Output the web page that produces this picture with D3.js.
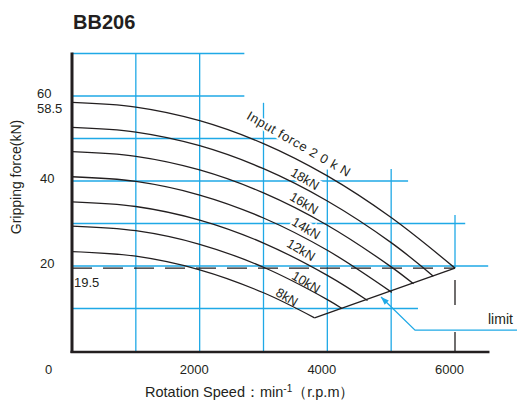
<!DOCTYPE html>
<html><head><meta charset="utf-8">
<script src="https://cdn.jsdelivr.net/npm/d3@7"></script>
<style>
body{margin:0;background:#fff}
svg{display:block;font-family:"Liberation Sans",Arial,Helvetica,sans-serif}
</style>
</head><body>
<svg id="chart" width="517" height="400"></svg>
<script>
// ---- data ----
const title = "BB206";
const curveLabels = ["20kN","18kN","16kN","14kN","12kN","10kN","8kN"];
const rpm20 = [0,1000,2000,3000,4000,5000,6000];
const grip20 = [58.5,57.4,54.2,48.8,41.2,31.4,19.5];
const rpm18 = [0,1000,2000,3000,4000,5000,5660];
const grip18 = [52.6,51.5,48.3,42.9,35.3,25.5,17.6];
const rpm16 = [0,1000,2000,3000,4000,5000,5350];
const grip16 = [46.9,45.8,42.6,37.2,29.6,19.8,15.8];
const rpm14 = [0,1000,2000,3000,4000,5010];
const grip14 = [41.0,39.9,36.7,31.3,23.7,13.8];
const rpm12 = [0,1000,2000,3000,4000,4630];
const grip12 = [35.1,34.0,30.8,25.4,17.8,11.9];
const rpm10 = [0,1000,2000,3000,4000,4230];
const grip10 = [29.4,28.3,25.1,19.7,12.1,10.0];
const rpm8 = [0,1000,2000,3000,3800];
const grip8 = [23.4,22.3,19.1,13.7,7.8];
const limitRpm = [3800,6000];
const limitGrip = [7.8,19.5];
const dashedGrip = 19.5;
const xTickValues = [0,2000,4000,6000];
const xTickLabels = ["0","2000","4000","6000"];
const yTickValues = [60,58.5,40,20];
const yTickLabels = ["60","58.5","40","20"];
const hGridValues = [70,60,50,40,30,20,10];
const hGridEnds   = [2700,2700,3260,5265,6160,6520,5420];
const vGridValues = [1000,2000,3000,4000,5000];
const vGridTops   = [70,70,58.4,42.7,42.8];

// ---- scales ----
const svg = d3.select("#chart");
const x = d3.scaleLinear().domain([0,6000]).range([72,455]);
const y = d3.scaleLinear().domain([0,70]).range([351,53.5]);
const BLUE = "#1fa9e6", INK = "#231f20";

// grid
const g = svg.append("g");
hGridValues.forEach((v,i)=>{
  g.append("line").attr("x1",x(0)).attr("x2",x(hGridEnds[i]))
   .attr("y1",y(v)).attr("y2",y(v)).attr("stroke",BLUE).attr("stroke-width",1.3);
});
vGridValues.forEach((v,i)=>{
  g.append("line").attr("x1",x(v)).attr("x2",x(v))
   .attr("y1",y(0)).attr("y2",y(vGridTops[i])).attr("stroke",BLUE).attr("stroke-width",1.3);
});
// 6000 marker: blue part then black parts
g.append("line").attr("x1",x(6000)).attr("x2",x(6000)).attr("y1",y(32)).attr("y2",y(19.5))
 .attr("stroke",BLUE).attr("stroke-width",1.3);
g.append("line").attr("x1",x(6000)).attr("x2",x(6000)).attr("y1",y(16.7)).attr("y2",y(10.8))
 .attr("stroke",INK).attr("stroke-width",1.3);
g.append("line").attr("x1",x(6000)).attr("x2",x(6000)).attr("y1",y(4.5)).attr("y2",y(0))
 .attr("stroke",INK).attr("stroke-width",1.3);

// dashed 19.5 line
svg.append("line").attr("x1",x(0)).attr("x2",x(6000)).attr("y1",y(dashedGrip)).attr("y2",y(dashedGrip))
 .attr("stroke",INK).attr("stroke-width",1.3).attr("stroke-dasharray","20,11");

// curve labels (with white halo that breaks the grid)
const labelPos = [[3556,48.7],[3650,40.5],[3635,34.8],[3666,28.9],[3588,23.8],[3666,16.2],[3368,12.7]];
const labelText = ["Input force 2 0 k N"].concat(curveLabels.slice(1));
const lab = svg.append("g").attr("font-size",13).attr("fill",INK);
labelText.forEach((t,i)=>{
  const px = x(labelPos[i][0]), py = y(labelPos[i][1]);
  lab.append("text").attr("transform",`translate(${px},${py}) rotate(${i===0?30:31})`)
    .attr("text-anchor","middle").attr("dominant-baseline","central")
    .attr("stroke","#fff").attr("stroke-width",4).attr("paint-order","stroke")
    .attr("letter-spacing", i===0 ? 0.6 : 0)
    .text(t);
});

// curves
const line = d3.line().x(d=>x(d[0])).y(d=>y(d[1])).curve(d3.curveCatmullRom);
const series = [[rpm20,grip20],[rpm18,grip18],[rpm16,grip16],[rpm14,grip14],[rpm12,grip12],[rpm10,grip10],[rpm8,grip8]];
svg.append("g").selectAll("path").data(series).join("path")
  .attr("d",s=>line(s[0].map((r,i)=>[r,s[1][i]])))
  .attr("fill","none").attr("stroke",INK).attr("stroke-width",1.3);
// limit line
svg.append("path").attr("d",d3.line().x(d=>x(d[0])).y(d=>y(d[1]))(limitRpm.map((r,i)=>[r,limitGrip[i]])))
  .attr("fill","none").attr("stroke",INK).attr("stroke-width",1.3);

// axes lines
svg.append("line").attr("x1",x(0)).attr("x2",x(0)).attr("y1",y(70)-1).attr("y2",y(0)+2)
  .attr("stroke",INK).attr("stroke-width",3);
svg.append("line").attr("x1",x(0)-1.5).attr("x2",x(6540)).attr("y1",y(0)+1).attr("y2",y(0)+1)
  .attr("stroke",INK).attr("stroke-width",2.6);

// x tick labels via d3 axis
const xOff = [-24,-6,-6,-6];
const xa = svg.append("g").attr("transform",`translate(0,${y(0)})`)
  .call(d3.axisBottom(x).tickValues(xTickValues).tickSize(0).tickPadding(14)
        .tickFormat((d,i)=>xTickLabels[i]));
xa.select(".domain").remove();
xa.selectAll("text").attr("font-size",13).attr("fill",INK).attr("font-family",null)
  .attr("dx",(d,i)=>xOff[i]);

// y tick labels via d3 axis
const ya = svg.append("g").attr("transform",`translate(${x(0)},0)`)
  .call(d3.axisLeft(y).tickValues(yTickValues).tickSize(0).tickPadding(8)
        .tickFormat((d,i)=>yTickLabels[i]));
ya.select(".domain").remove();
const yStart = [37,37,40,40];
const yShift = [-2.8,6.4,-2.5,-3];
ya.selectAll(".tick text").attr("font-size",13).attr("fill",INK).attr("font-family",null)
  .attr("text-anchor","start").attr("x",(d,i)=>yStart[i]-x(0)).attr("dy","0.32em")
  .attr("transform",(d,i)=>`translate(0,${yShift[i]})`);
// 19.5 label
svg.append("text").attr("x",x(0)+2).attr("y",y(dashedGrip)+19).attr("font-size",13).attr("fill",INK)
  .text(String(dashedGrip));

// title
svg.append("text").attr("x",73).attr("y",29).attr("font-size",20).attr("font-weight","bold")
  .attr("fill",INK).text(title);

// axis titles
svg.append("text").attr("transform",`translate(21,177) rotate(-90)`).attr("text-anchor","middle")
  .attr("font-size",14).attr("fill",INK).text("Gripping force(kN)");
const xt = svg.append("text").attr("x",145).attr("y",397).attr("font-size",14.5).attr("fill",INK);
xt.append("tspan").text("Rotation Speed：min");
xt.append("tspan").attr("dy",-5).attr("font-size",10).text("-1");
xt.append("tspan").attr("dy",5).text("（r.p.m）");

// limit annotation
const tip = [4841,12.7], bend = [5374,4.9], endR = 6972;
svg.append("path").attr("d",`M${x(tip[0])},${y(tip[1])}L${x(bend[0])},${y(bend[1])}L${x(endR)},${y(bend[1])}`)
  .attr("fill","none").attr("stroke",BLUE).attr("stroke-width",1.3);
const ang = Math.atan2(y(bend[1])-y(tip[1]), x(bend[0])-x(tip[0]));
const ax = x(tip[0]), ay = y(tip[1]), L = 8, W = 3;
svg.append("path").attr("d",`M${ax},${ay}L${ax+L*Math.cos(ang)-W*Math.sin(ang)},${ay+L*Math.sin(ang)+W*Math.cos(ang)}L${ax+L*Math.cos(ang)+W*Math.sin(ang)},${ay+L*Math.sin(ang)-W*Math.cos(ang)}Z`)
  .attr("fill",BLUE);
svg.append("text").attr("x",x(6517)).attr("y",y(6.35)).attr("font-size",14).attr("fill",INK).text("limit");
</script>
</body></html>
